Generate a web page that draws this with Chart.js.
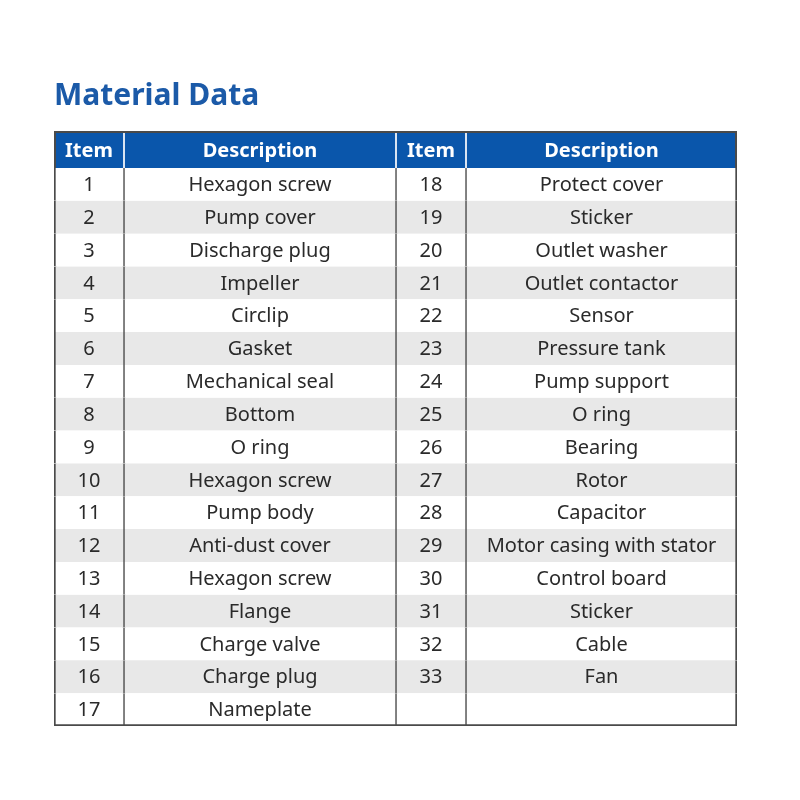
<!DOCTYPE html>
<html>
<head>
<meta charset="utf-8">
<title>Material Data</title>
<script src="https://cdn.jsdelivr.net/npm/chart.js"></script>
<style>
  html, body { margin: 0; padding: 0; background: #ffffff; }
  #wrap { width: 800px; height: 800px; }
</style>
</head>
<body>
<div id="wrap"><canvas id="materialChart"></canvas></div>
<script>
// table content
const headers = ['Item', 'Description', 'Item', 'Description'];
const itemsLeft = [1, 2, 3, 4, 5, 6, 7, 8, 9, 10, 11, 12, 13, 14, 15, 16, 17];
const descLeft = [
    'Hexagon screw', 'Pump cover', 'Discharge plug', 'Impeller', 'Circlip',
    'Gasket', 'Mechanical seal', 'Bottom', 'O ring', 'Hexagon screw',
    'Pump body', 'Anti-dust cover', 'Hexagon screw', 'Flange', 'Charge valve',
    'Charge plug', 'Nameplate'
];
const itemsRight = [18, 19, 20, 21, 22, 23, 24, 25, 26, 27, 28, 29, 30, 31, 32, 33];
const descRight = [
    'Protect cover', 'Sticker', 'Outlet washer', 'Outlet contactor', 'Sensor',
    'Pressure tank', 'Pump support', 'O ring', 'Bearing', 'Rotor',
    'Capacitor', 'Motor casing with stator', 'Control board', 'Sticker', 'Cable',
    'Fan'
];

// column boundaries on the x scale (layout only)
const colEdges = [0, 70, 342, 412, 683];

const rowLabels = itemsLeft.map(String);
const columns = [itemsLeft, descLeft, itemsRight, descRight];
const lastRow = rowLabels.length - 1;

const datasets = columns.map((texts, c) => ({
    label: headers[c],
    texts: rowLabels.map((_, r) => texts[r] !== undefined ? String(texts[r]) : ''),
    data: rowLabels.map(() => [colEdges[c], colEdges[c + 1]]),
    backgroundColor: (ctx) => ctx.dataIndex % 2 === 1 ? '#e8e8e8' : '#ffffff',
    borderColor: '#4a4a4a',
    borderWidth: (ctx) => ({
        left: c === 0 ? 2 : 1,
        right: c === columns.length - 1 ? 2 : 1,
        top: 0,
        bottom: ctx.dataIndex === lastRow ? 2 : 0
    }),
    borderSkipped: false,
    grouped: false,
    barPercentage: 1,
    categoryPercentage: 1
}));

// blue header band behind the top x axis labels
const headerBand = {
    id: 'headerBand',
    beforeDraw(chart) {
        const { ctx } = chart;
        const x = chart.scales.x;
        ctx.save();
        ctx.fillStyle = '#0a56ab';
        ctx.fillRect(x.left, x.top, x.width, x.height);

        ctx.strokeStyle = '#d9e4f2';
        ctx.lineWidth = 2;
        colEdges.slice(1, -1).forEach((e) => {
            const px = x.getPixelForValue(e);
            ctx.beginPath();
            ctx.moveTo(px, x.top + 2);
            ctx.lineTo(px, x.bottom);
            ctx.stroke();
        });

        ctx.strokeStyle = '#4a4a4a';
        ctx.beginPath();
        ctx.moveTo(x.left + 1, x.bottom);
        ctx.lineTo(x.left + 1, x.top + 1);
        ctx.lineTo(x.right - 1, x.top + 1);
        ctx.lineTo(x.right - 1, x.bottom);
        ctx.stroke();
        ctx.restore();
    }
};

// text inside each body cell
const cellText = {
    id: 'cellText',
    afterDatasetsDraw(chart) {
        const { ctx } = chart;
        ctx.save();
        ctx.font = '20px "Noto Sans"';
        ctx.fillStyle = '#2a2a2a';
        ctx.textAlign = 'center';
        ctx.textBaseline = 'middle';
        chart.data.datasets.forEach((ds, i) => {
            chart.getDatasetMeta(i).data.forEach((bar, j) => {
                const { x, y, base } = bar.getProps(['x', 'y', 'base'], true);
                ctx.fillText(ds.texts[j], (x + base) / 2, y + 1);
            });
        });
        ctx.restore();
    }
};

const ctx = document.getElementById('materialChart').getContext('2d');
new Chart(ctx, {
    type: 'bar',
    data: {
        labels: rowLabels,
        datasets: datasets
    },
    options: {
        indexAxis: 'y',
        responsive: true,
        maintainAspectRatio: false,
        animation: false,
        layout: {
            padding: { left: 54, right: 63, top: 0, bottom: 74 }
        },
        scales: {
            x: {
                type: 'linear',
                position: 'top',
                min: colEdges[0],
                max: colEdges[colEdges.length - 1],
                grid: { display: false, drawTicks: false },
                border: { display: false },
                afterBuildTicks: (scale) => {
                    scale.ticks = colEdges.slice(0, -1).map((e, i) => ({ value: (e + colEdges[i + 1]) / 2 }));
                },
                afterFit: (scale) => {
                    scale.height = 37;
                },
                ticks: {
                    autoSkip: false,
                    maxRotation: 0,
                    padding: 5,
                    color: '#ffffff',
                    font: { family: 'Noto Sans', size: 20, weight: 'bold' },
                    callback: (value, index) => headers[index]
                }
            },
            y: {
                display: false,
                grid: { display: false }
            }
        },
        plugins: {
            legend: { display: false },
            tooltip: { enabled: false },
            title: {
                display: true,
                text: 'Material Data',
                align: 'start',
                color: '#1b5aa8',
                font: { family: 'Noto Sans', size: 30, weight: 'bold' },
                padding: { top: 78, bottom: 17 }
            }
        }
    },
    plugins: [headerBand, cellText]
});
</script>
</body>
</html>
